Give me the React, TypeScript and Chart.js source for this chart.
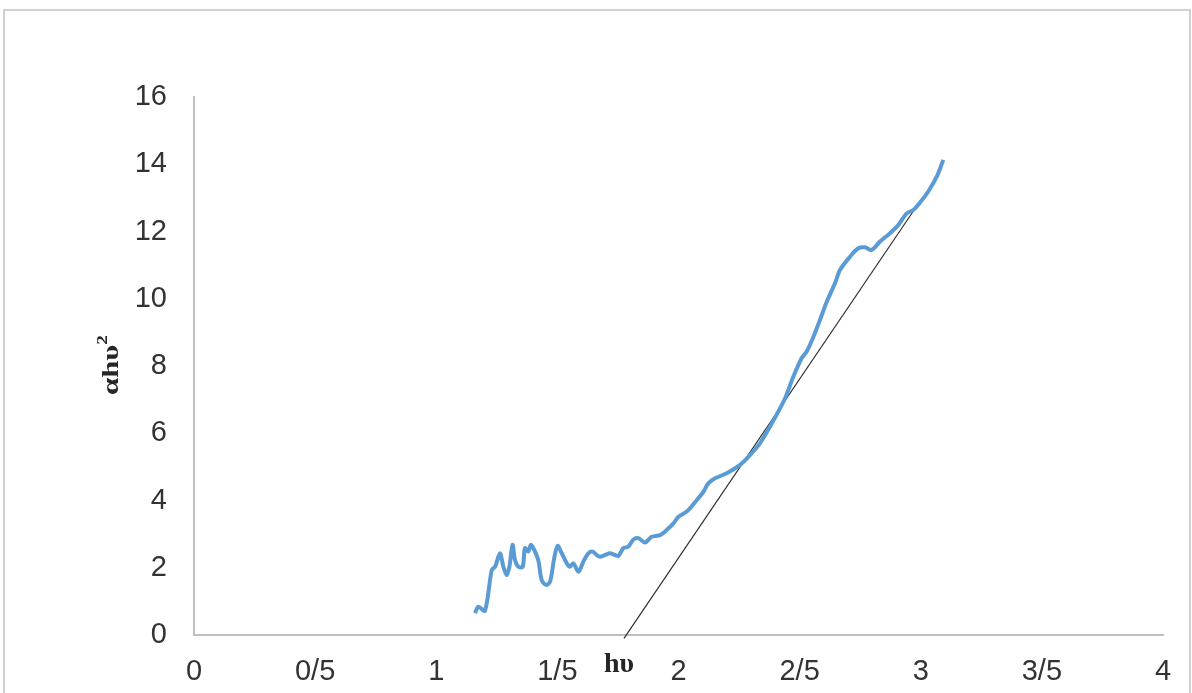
import React, { useEffect, useRef } from "react";
import { Chart, registerables } from "chart.js";

Chart.register(...registerables);

const curveX = [1.160,1.174,1.201,1.229,1.243,1.263,1.277,1.291,1.302,1.315,1.325,1.339,1.357,1.366,1.380,1.390,1.401,1.421,1.435,1.453,1.470,1.488,1.501,1.518,1.539,1.552,1.566,1.587,1.607,1.628,1.646,1.662,1.676,1.697,1.717,1.738,1.752,1.772,1.793,1.813,1.834,1.862,1.889,1.924,1.951,1.979,2.000,2.034,2.075,2.103,2.123,2.151,2.199,2.254,2.295,2.336,2.378,2.419,2.440,2.474,2.508,2.529,2.557,2.584,2.612,2.646,2.667,2.708,2.742,2.770,2.797,2.832,2.873,2.907,2.942,2.969,2.997,3.031,3.066,3.093];
const curveY = [0.65,0.84,0.72,1.93,2.03,2.43,2.03,1.78,2.03,2.68,2.23,2.03,2.03,2.58,2.48,2.68,2.58,2.23,1.64,1.49,1.59,2.33,2.65,2.43,2.13,2.03,2.13,1.88,2.18,2.43,2.48,2.38,2.33,2.38,2.43,2.38,2.35,2.58,2.63,2.83,2.88,2.75,2.92,2.97,3.12,3.32,3.52,3.67,4.01,4.26,4.51,4.66,4.81,5.06,5.35,5.70,6.20,6.74,7.04,7.68,8.23,8.43,8.87,9.37,9.91,10.46,10.86,11.25,11.50,11.53,11.45,11.70,11.95,12.19,12.54,12.64,12.86,13.19,13.63,14.13];

const tangentX = [1.775, 2.997];
const tangentY = [-0.1, 12.9];

const xTickLabels = ["0", "0/5", "1", "1/5", "2", "2/5", "3", "3/5", "4"];
const yTickLabels = ["0", "2", "4", "6", "8", "10", "12", "14", "16"];

const xTitle = "hυ";
const yTitleMain = "αhυ";
const yTitleSup = "2";

const titlePlugin = {
  id: "customTitles",
  afterDraw(chart: any) {
    const ctx = chart.ctx;
    const area = chart.chartArea;
    ctx.save();
    ctx.fillStyle = "#262626";
    // x title
    ctx.font = "bold 28px 'Liberation Serif'";
    ctx.textAlign = "center";
    ctx.textBaseline = "alphabetic";
    ctx.fillText(xTitle, area.left + 425, area.bottom + 37);
    // y title (rotated)
    ctx.translate(area.left - 76, area.top + 268);
    ctx.rotate(-Math.PI / 2);
    ctx.font = "bold 24px 'Liberation Serif'";
    const wMain = ctx.measureText(yTitleMain).width;
    ctx.font = "bold 15px 'Liberation Serif'";
    const wSup = ctx.measureText(yTitleSup).width;
    const total = wMain + wSup;
    const target = 60;
    ctx.scale(target / total, 1);
    ctx.textAlign = "left";
    ctx.font = "bold 24px 'Liberation Serif'";
    ctx.fillText(yTitleMain, -total / 2, 0);
    ctx.font = "bold 15px 'Liberation Serif'";
    ctx.fillText(yTitleSup, -total / 2 + wMain, -11);
    ctx.restore();
  },
};

export default function App() {
  const ref = useRef<HTMLCanvasElement | null>(null);
  useEffect(() => {
    if (!ref.current) return;
    const chart = new Chart(ref.current, {
      type: "line",
      data: {
        datasets: [
          {
            data: curveX.map((x, i) => ({ x, y: curveY[i] })),
            borderColor: "#5b9bd5",
            borderWidth: 4,
            pointRadius: 0,
            tension: 0.3,
            fill: false,
          },
          {
            data: tangentX.map((x, i) => ({ x, y: tangentY[i] })),
            borderColor: "#303030",
            borderWidth: 1.2,
            pointRadius: 0,
            tension: 0,
            fill: false,
            clip: false as any,
          },
        ],
      },
      options: {
        animation: false,
        responsive: false,
        devicePixelRatio: 1,
        layout: { padding: { left: 0, right: 29, top: 97, bottom: 0 } },
        plugins: { legend: { display: false }, tooltip: { enabled: false } },
        scales: {
          x: {
            type: "linear",
            min: 0,
            max: 4,
            afterFit: (s: any) => { s.height = 58; },
            grid: { display: false, drawTicks: false },
            border: { display: true, color: "#c0c0c0", width: 2 },
            ticks: {
              stepSize: 0.5,
              padding: 20,
              color: "#333333",
              font: { family: "'Liberation Sans'", size: 29 },
              maxRotation: 0,
              autoSkip: false,
              callback: (_v: any, i: number) => xTickLabels[i],
            },
          },
          y: {
            type: "linear",
            min: 0,
            max: 16,
            afterFit: (s: any) => { s.width = 194; },
            grid: { display: false, drawTicks: false },
            border: { display: true, color: "#c0c0c0", width: 2 },
            ticks: {
              stepSize: 2,
              padding: 27,
              color: "#333333",
              font: { family: "'Liberation Sans'", size: 29 },
              autoSkip: false,
              callback: (_v: any, i: number) => yTickLabels[i],
            },
          },
        },
      },
      plugins: [titlePlugin],
    });
    return () => chart.destroy();
  }, []);

  return (
    <div>
      <div
        style={{
          position: "fixed",
          left: 3,
          top: 9,
          width: 1188,
          height: 720,
          border: "2px solid #d0d0d0",
          boxSizing: "border-box",
          background: "#fff",
        }}
      />
      <canvas
        ref={ref}
        width={1192}
        height={693}
        style={{ position: "fixed", left: 0, top: 0, width: 1192, height: 693 }}
      />
    </div>
  );
}
